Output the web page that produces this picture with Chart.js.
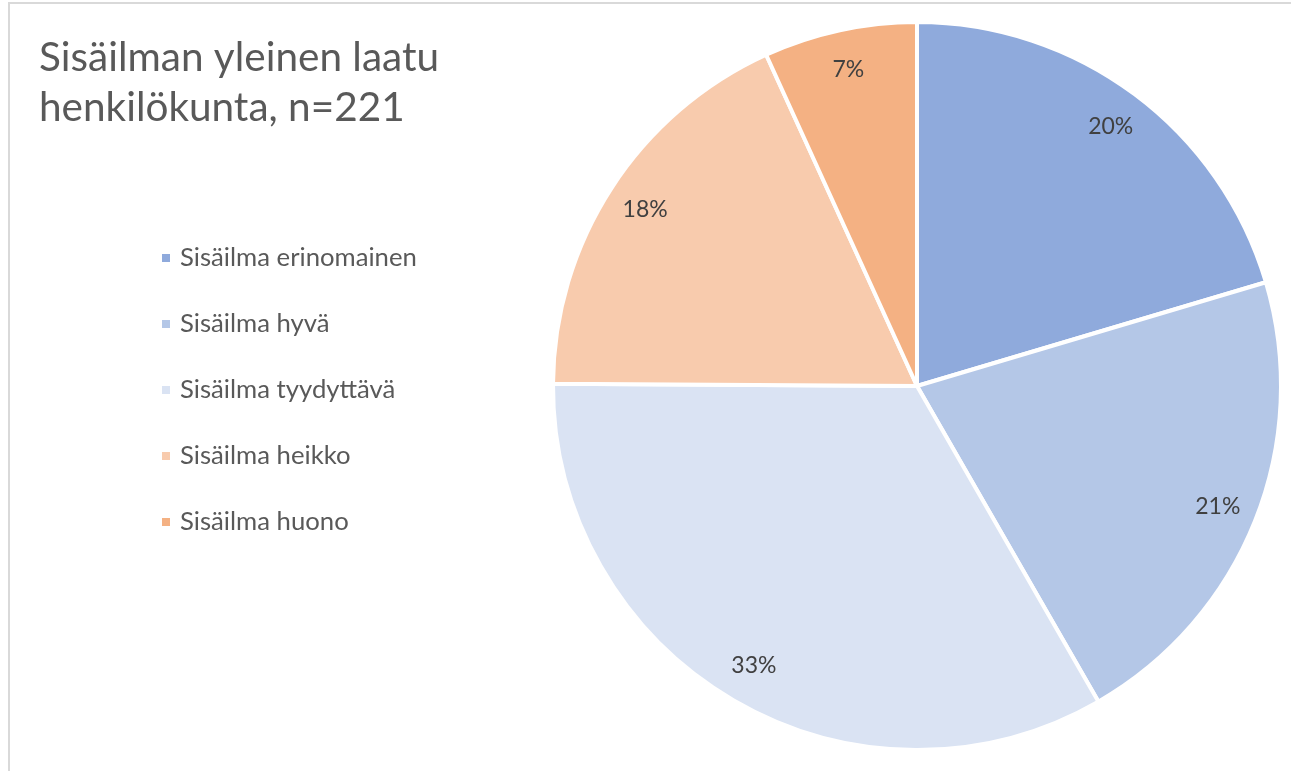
<!DOCTYPE html>
<html>
<head>
<meta charset="utf-8">
<script src="https://cdn.jsdelivr.net/npm/chart.js@4"></script>
<style>
  html, body { margin: 0; padding: 0; background: #fff; }
  #wrap { width: 1291px; height: 771px; position: relative; }
</style>
</head>
<body>
<div id="wrap"><canvas id="pie"></canvas></div>
<script>
// Data (share of respondents, %)
const titleLines = ["Sisäilman yleinen laatu", "henkilökunta, n=221"];
const categories = ["Sisäilma erinomainen", "Sisäilma hyvä", "Sisäilma tyydyttävä", "Sisäilma heikko", "Sisäilma huono"];
const shares = [20.4, 21.3, 33.4, 18.1, 6.8];
const shareLabels = ["20%", "21%", "33%", "18%", "7%"];
const sliceColors = ["#8FAADC", "#B4C7E7", "#DAE3F3", "#F8CBAD", "#F4B183"];

const FONT = "Lato, 'Open Sans', sans-serif";
const TEXT = "#595959";

// frame, title, legend and slice labels
const decor = {
  id: "decor",
  afterDraw(chart) {
    const ctx = chart.ctx;
    ctx.save();

    // light frame on top/left
    ctx.strokeStyle = "#D9D9D9";
    ctx.lineWidth = 2;
    ctx.beginPath();
    ctx.moveTo(9, 771);
    ctx.lineTo(9, 3);
    ctx.lineTo(1291, 3);
    ctx.stroke();

    // title
    ctx.fillStyle = TEXT;
    ctx.textBaseline = "middle";
    ctx.textAlign = "left";
    ctx.font = "40.5px " + FONT;
    titleLines.forEach((t, i) => ctx.fillText(t, 39, 58 + i * 50));

    // legend
    ctx.font = "25.7px " + FONT;
    categories.forEach((c, i) => {
      const y = 258 + i * 66;
      ctx.fillStyle = sliceColors[i];
      ctx.fillRect(162, y - 4, 8, 8);
      ctx.fillStyle = TEXT;
      ctx.fillText(c, 180, y);
    });

    // percentage labels inside slices
    const meta = chart.getDatasetMeta(0);
    ctx.fillStyle = "#404040";
    ctx.textAlign = "center";
    ctx.font = "23px " + FONT;
    meta.data.forEach((arc, i) => {
      const { x, y, startAngle, endAngle, outerRadius } = arc.getProps(["x", "y", "startAngle", "endAngle", "outerRadius"], true);
      const mid = (startAngle + endAngle) / 2;
      const r = outerRadius * 0.89;
      ctx.fillText(shareLabels[i], x + Math.cos(mid) * r, y + Math.sin(mid) * r);
    });

    ctx.restore();
  }
};

new Chart(document.getElementById("pie").getContext("2d"), {
  type: "pie",
  data: {
    labels: categories,
    datasets: [{
      data: shares,
      backgroundColor: sliceColors,
      borderColor: "#FFFFFF",
      borderWidth: 4,
      hoverOffset: 0,
    }],
  },
  options: {
    responsive: true,
    maintainAspectRatio: false,
    animation: false,
    layout: { padding: { left: 551, right: 8, top: 20, bottom: 19 } },
    plugins: { legend: { display: false }, tooltip: { enabled: false } },
  },
  plugins: [decor],
});
</script>
</body>
</html>
